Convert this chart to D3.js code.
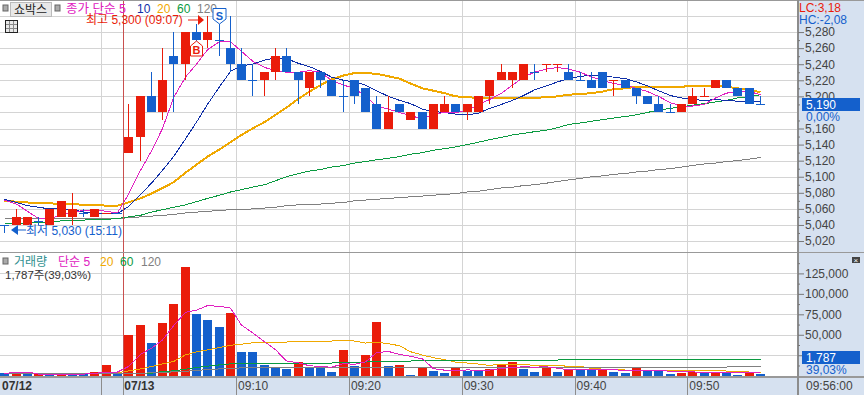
<!DOCTYPE html>
<html>
<head>
<meta charset="utf-8">
<script src="https://cdn.jsdelivr.net/npm/d3@7"></script>
<style>
  html, body { margin: 0; padding: 0; background: #fff; }
  svg { display: block; font-family: "Liberation Sans", "Noto Sans CJK KR", sans-serif; }
  .axis text { fill: #444; font-size: 12px; font-family: "Liberation Sans", sans-serif; }
  .axis line { stroke: #777; }
  .axis path { display: none; }
</style>
</head>
<body>
<svg id="chart" width="864" height="395"></svg>
<script>
const prevTimes = ['15:11','15:12','15:13','15:14','15:15','15:16','15:17','15:18','15:19','15:20','15:21'];
const todayTimes = ['09:00','09:01','09:02','09:03','09:04','09:05','09:06','09:07','09:08','09:09',
  '09:10','09:11','09:12','09:13','09:14','09:15','09:16','09:17','09:18','09:19',
  '09:20','09:21','09:22','09:23','09:24','09:25','09:26','09:27','09:28','09:29',
  '09:30','09:31','09:32','09:33','09:34','09:35','09:36','09:37','09:38','09:39',
  '09:40','09:41','09:42','09:43','09:44','09:45','09:46','09:47','09:48','09:49',
  '09:50','09:51','09:52','09:53','09:54','09:55','09:56'];
const categories = prevTimes.concat(todayTimes);

const opens = [5040,5040,5040,5045,5040,5050,5050,5055,5050,5055,
  5055,5130,5150,5200,5180,5250,5240,5280,5270,5270,
  5260,5240,5220,5220,5230,5250,5230,5210,5230,5220,
  5200,5220,5210,5190,5160,5190,5170,5180,5160,5180,
  5190,5180,5180,5200,5220,5220,5220,5230,5240,5240,
  5230,5220,5220,5230,5220,5220,5210,5200,5190,5180,
  5180,5190,5200,5210,5220,5210,5210,5190];
const closes = [5040,5050,5050,5045,5060,5070,5060,5055,5060,5055,
  5055,5150,5200,5180,5220,5240,5280,5270,5280,5270,
  5240,5220,5220,5230,5250,5230,5220,5230,5220,5200,
  5200,5200,5180,5160,5180,5180,5180,5160,5190,5190,
  5180,5190,5200,5220,5230,5230,5240,5230,5240,5240,
  5220,5220,5210,5210,5220,5210,5200,5190,5180,5180,
  5190,5200,5200,5220,5210,5200,5190,5190];
const highs = [5040,5060,5050,5050,5060,5070,5080,5060,5060,5055,
  5055,5190,5200,5230,5260,5280,5280,5290,5300,5290,
  5300,5260,5240,5230,5260,5260,5230,5230,5230,5220,
  5220,5220,5210,5200,5200,5190,5180,5180,5190,5200,
  5190,5190,5200,5220,5240,5230,5240,5240,5240,5240,
  5240,5230,5230,5230,5220,5220,5210,5200,5200,5190,
  5190,5210,5210,5220,5220,5210,5210,5200];
const lows = [5030,5040,5040,5040,5040,5050,5040,5050,5050,5055,
  5055,5130,5120,5180,5170,5180,5220,5250,5260,5250,
  5230,5220,5200,5200,5220,5230,5190,5200,5210,5200,
  5180,5190,5180,5160,5160,5180,5170,5160,5160,5180,
  5180,5170,5180,5190,5220,5210,5220,5220,5230,5230,
  5220,5220,5210,5210,5200,5210,5190,5190,5180,5180,
  5180,5190,5200,5210,5210,5200,5190,5190];
const candleUp = [0,1,1,0,1,1,1,0,1,1,
  0,1,1,0,1,0,1,0,1,0,
  0,0,0,1,1,0,0,1,0,0,
  0,0,0,0,1,0,1,0,1,1,
  0,1,1,1,1,1,1,0,1,1,
  0,0,0,0,1,0,0,0,0,0,
  1,1,1,1,0,0,0,0];

const ma5 = [5071,5066,5057,5048,5048,5052,5056,5058,5059,5057,
  5055,5078,5108,5132,5160,5198,5224,5240,5258,5268,
  5268,5256,5244,5236,5232,5230,5230,5232,5230,5220,
  5214,5210,5200,5188,5184,5180,5176,5172,5178,5180,
  5180,5182,5190,5196,5204,5214,5224,5230,5234,5236,
  5234,5230,5224,5220,5216,5214,5210,5206,5200,5192,
  5188,5188,5190,5198,5204,5206,5206,5202];
const ma10 = [5072,5068,5064,5062,5060,5060,5059,5056,5055,5054,
  5054,5063,5078,5092,5108,5125,5147,5168,5190,5212,
  5231,5238,5240,5245,5248,5247,5241,5237,5231,5224,
  5220,5218,5214,5207,5200,5195,5191,5184,5181,5180,
  5178,5177,5179,5185,5190,5195,5201,5208,5213,5218,
  5222,5225,5226,5225,5224,5222,5218,5213,5207,5201,
  5198,5196,5195,5196,5195,5194,5193,5193];
const ma20 = [5070,5069,5068,5067,5067,5066,5066,5065,5065,5064,
  5064,5068,5073,5079,5086,5093,5105,5115,5125,5134,
  5143,5152,5160,5168,5177,5186,5197,5206,5214,5221,
  5226,5229,5229,5228,5225,5222,5216,5210,5207,5204,
  5200,5199,5198,5198,5198,5198,5198,5198,5199,5200,
  5202,5203,5204,5206,5209,5210,5212,5212,5212,5212,
  5212,5213,5213,5213,5212,5210,5208,5205];
const ma60 = [5042,5042,5042,5043,5044,5045,5046,5046,5047,5047,
  5048,5050,5052,5056,5059,5062,5065,5069,5073,5077,
  5081,5084,5087,5090,5095,5100,5104,5107,5109,5112,
  5114,5117,5119,5121,5123,5125,5128,5130,5133,5135,
  5137,5140,5143,5146,5149,5152,5154,5156,5158,5161,
  5165,5167,5169,5171,5173,5175,5177,5180,5183,5185,
  5187,5189,5191,5193,5195,5198,5200,5202];
const ma120 = [5048,5048,5048,5048,5048,5048,5048,5048,5048,5048,
  5048,5049,5050,5051,5052,5053,5055,5056,5057,5058,
  5059,5059,5060,5061,5062,5064,5065,5066,5066,5067,
  5068,5070,5071,5072,5073,5074,5075,5076,5077,5078,
  5079,5081,5082,5084,5086,5087,5089,5090,5092,5094,
  5096,5098,5100,5101,5103,5104,5106,5107,5109,5110,
  5112,5114,5116,5117,5119,5120,5122,5124];

const volumes = [3600,2400,1500,1500,1500,1500,1500,1500,4900,13400,
  1500,49900,62100,40100,64600,87700,133000,75500,68200,59700,
  76700,29100,29100,13200,10400,8600,17100,11000,9800,4900,
  31800,12200,25700,66000,12200,13400,1200,9800,6100,3700,
  9800,6100,6100,8600,13400,17100,8600,4900,9800,4900,
  8600,7300,7300,8600,4900,3700,9800,6100,6100,2400,
  3700,4900,3700,4900,4900,1200,4900,1787];
const volumeUp = [0,1,0,1,0,1,0,0,1,1,
  0,1,1,0,1,1,1,0,0,0,
  1,0,0,0,0,0,1,0,0,0,
  1,0,1,1,0,1,0,1,0,0,
  1,0,0,1,1,1,0,0,1,0,
  1,0,0,1,0,0,1,0,0,0,
  1,1,0,1,0,0,1,0];
const volMa5 = [2500,4500,4500,2000,2000,2000,2000,2000,2700,4500,
  4500,11200,26000,33600,43700,60900,77500,80200,85600,84800,
  82600,61800,52600,41600,31700,18100,15700,12100,11400,10300,
  14900,13900,16900,28100,29600,25900,23700,20500,8500,6800,
  6100,7100,6400,6900,8800,10300,10800,10500,10800,9100,
  7400,7100,7600,7300,7300,6400,6900,6600,6100,5600,
  5600,4600,4200,3900,4400,3900,3700,3600];
const volMa20 = [2200,2200,2200,2200,2200,2200,2200,2200,2200,2200,
  3500,5900,8300,11200,14400,17300,25400,29100,31500,34400,
  37200,38500,40100,40900,40900,41100,42300,42300,42300,42300,
  43500,42300,39900,41100,39100,36600,29300,25200,22000,19500,
  16700,15500,14200,12600,14200,13800,13800,12600,12600,12600,
  11400,11400,8900,8100,8100,6900,6900,6900,6900,6900,
  6900,6900,6900,6900,5700,5700,4500,4500];
const volMa60 = [2800,2800,2800,2800,2800,2800,2800,2800,2800,2800,
  3000,3000,3000,3000,5100,5900,7900,10000,11600,13200,
  14400,15300,15300,15300,15300,15500,15500,15500,15500,15500,
  16700,16700,16700,17900,17900,17900,17900,19100,19100,19100,
  19100,19100,19100,19100,19100,19100,19100,19100,19100,19100,
  20300,20300,20300,20300,20300,20300,20300,20300,20300,20300,
  20300,20300,20300,20300,20300,20300,20300,20300];
const volMa120 = [2600,2600,2600,2600,2600,2600,2600,2600,2600,2600,
  2600,2800,3000,3500,4000,4700,5500,6300,7500,8300,
  9100,9500,9800,10000,10000,10300,10600,10600,10600,10600,
  10600,10600,10600,10600,10600,10600,10600,10600,10600,10600,
  10600,10600,10600,10600,10600,10600,10600,10600,10600,10600,
  10600,10600,10600,10600,10600,10600,10600,10600,10600,10600,
  10600,10600,10600,10600,10600,11800,11800,11800];

const priceTicks = [5300,5280,5260,5240,5220,5200,5180,5160,5140,5120,5100,5080,5060,5040,5020];
const priceLabelTicks = [5280,5260,5240,5220,5200,5160,5140,5120,5100,5080,5060,5040,5020];
const priceMinorTicks = [5270,5250,5230,5210,5190,5170,5150,5130,5110,5090,5070,5050,5030];
const volumeTicks = [125000,100000,75000,50000,25000];
const volumeMinorTicks = [137500,112500,87500,62500,37500,12500];
const gridTimes = ['15:20','09:10','09:20','09:30','09:40','09:50'];
const timeLabels = ['09:10','09:20','09:30','09:40','09:50'];

const RED = '#ea1c0a', BLUE = '#1460cc', MAGENTA = '#e020c0', NAVY = '#0f2fa8',
  ORANGE = '#f0a800', GREEN = '#0a9a40', GRAY = '#808080', PANEL = '#d6e1f0', GRID = '#d4d4d4';

const plotRight = 797;
const svg = d3.select('#chart');

const x = d3.scaleBand().domain(d3.range(categories.length)).range([-0.78, 766.26]);
const idxOf = t => categories.lastIndexOf(t);
const xc = i => Math.round(x(i)) + 5;
const yPrice = d3.scaleLinear().domain([5000, 5300]).range([257.1, 16]);
const yVol = d3.scaleLinear().domain([0, 125000]).range([375.7, 273.4]);

// panels
svg.append('rect').attr('x', plotRight).attr('y', 0).attr('width', 864 - plotRight).attr('height', 395).attr('fill', PANEL);
svg.append('rect').attr('x', 0).attr('y', 377).attr('width', 864).attr('height', 18).attr('fill', PANEL);

// grid
const grid = svg.append('g').attr('shape-rendering', 'crispEdges');
grid.append('g').selectAll('line').data(priceTicks).join('line')
  .attr('x1', 0).attr('x2', plotRight)
  .attr('y1', d => Math.round(yPrice(d)) + 0.5).attr('y2', d => Math.round(yPrice(d)) + 0.5)
  .attr('stroke', GRID);
grid.append('g').selectAll('line').data(volumeTicks).join('line')
  .attr('x1', 0).attr('x2', plotRight)
  .attr('y1', d => Math.round(yVol(d)) + 0.5).attr('y2', d => Math.round(yVol(d)) + 0.5)
  .attr('stroke', GRID);
grid.append('g').selectAll('line').data(gridTimes).join('line')
  .attr('x1', d => Math.round(x(idxOf(d))) + 0.5).attr('x2', d => Math.round(x(idxOf(d))) + 0.5)
  .attr('y1', 0).attr('y2', 376)
  .attr('stroke', GRID);

// moving averages, price pane (below the candles)
function drawLine(parent, values, y, color, width) {
  const line = d3.line().x((d, i) => xc(i) + 0.5).y(d => y(d));
  parent.append('path').datum(values)
    .attr('fill', 'none').attr('stroke', color).attr('stroke-width', width)
    .attr('shape-rendering', 'crispEdges').attr('d', line);
}
const pricePane = svg.append('g');
drawLine(pricePane, ma120, yPrice, GRAY, 1);
drawLine(pricePane, ma60, yPrice, GREEN, 1);
drawLine(pricePane, ma20, yPrice, ORANGE, 2);
drawLine(pricePane, ma10, yPrice, NAVY, 1);
drawLine(pricePane, ma5, yPrice, MAGENTA, 1);

// candles
const candles = pricePane.append('g').attr('shape-rendering', 'crispEdges')
  .selectAll('g').data(categories.map((c, i) => i)).join('g')
  .attr('fill', i => candleUp[i] ? RED : BLUE)
  .attr('stroke', i => candleUp[i] ? RED : BLUE);
candles.append('line')
  .attr('x1', i => xc(i) + 0.5).attr('x2', i => xc(i) + 0.5)
  .attr('y1', i => Math.round(yPrice(highs[i]))).attr('y2', i => Math.round(yPrice(lows[i])));
candles.append('rect')
  .attr('x', i => xc(i) - 4)
  .attr('width', 9)
  .attr('y', i => Math.round(yPrice(Math.max(opens[i], closes[i]))))
  .attr('height', i => Math.max(1, Math.round(yPrice(Math.min(opens[i], closes[i]))) - Math.round(yPrice(Math.max(opens[i], closes[i])))))
  .attr('stroke', 'none');

// volume bars and averages
const volPane = svg.append('g');
volPane.append('g').attr('shape-rendering', 'crispEdges')
  .selectAll('rect').data(volumes).join('rect')
  .attr('x', (d, i) => xc(i) - 4)
  .attr('width', 9)
  .attr('y', d => Math.round(yVol(d)))
  .attr('height', d => Math.round(yVol(0)) - Math.round(yVol(d)))
  .attr('fill', (d, i) => volumeUp[i] ? RED : BLUE);
drawLine(volPane, volMa20, yVol, ORANGE, 1);
drawLine(volPane, volMa60, yVol, GREEN, 1);
drawLine(volPane, volMa120, yVol, GRAY, 1);
drawLine(volPane, volMa5, yVol, MAGENTA, 1);

// 09:00 session line
svg.append('line').attr('shape-rendering', 'crispEdges')
  .attr('x1', Math.round(x(idxOf('09:00'))) + 0.5).attr('x2', Math.round(x(idxOf('09:00'))) + 0.5)
  .attr('y1', 0).attr('y2', 377).attr('stroke', '#c9504f');

// frame
const frame = svg.append('g').attr('shape-rendering', 'crispEdges');
frame.append('line').attr('x1', 0).attr('x2', 864).attr('y1', 0.5).attr('y2', 0.5).attr('stroke', '#999');
frame.append('line').attr('x1', 0).attr('x2', 864).attr('y1', 252.5).attr('y2', 252.5).attr('stroke', '#999');
frame.append('line').attr('x1', 0).attr('x2', 864).attr('y1', 376.5).attr('y2', 376.5).attr('stroke', '#999').attr('stroke-width', 2);
frame.append('line').attr('x1', plotRight + 0.5).attr('x2', plotRight + 0.5).attr('y1', 0).attr('y2', 395).attr('stroke', '#8c8c8c').attr('stroke-width', 2);

// right axes
const axisX = plotRight + 1;
const fmt = d3.format(',');
svg.append('g').attr('class', 'axis').attr('transform', `translate(${axisX},0)`)
  .call(d3.axisRight(yPrice).tickValues(priceLabelTicks).tickSize(6).tickPadding(1).tickFormat(fmt));
svg.append('g').attr('class', 'axis').attr('transform', `translate(${axisX},0)`)
  .call(d3.axisRight(yPrice).tickValues(priceMinorTicks).tickSize(2).tickFormat(''));
svg.append('g').attr('class', 'axis').attr('transform', `translate(${axisX},0)`)
  .call(d3.axisRight(yVol).tickValues(volumeTicks).tickSize(6).tickPadding(1).tickFormat(fmt));
svg.append('g').attr('class', 'axis').attr('transform', `translate(${axisX},0)`)
  .call(d3.axisRight(yVol).tickValues(volumeMinorTicks).tickSize(2).tickFormat(''));

function label(str, px, py, color, size, weight) {
  return svg.append('text').attr('x', px).attr('y', py).attr('fill', color)
    .attr('font-size', size || 12).attr('font-weight', weight || 'normal').text(str);
}

// right side badges
svg.append('rect').attr('x', 799).attr('y', 1).attr('width', 65).attr('height', 25).attr('fill', PANEL);
label('LC:3,18', 799, 12, RED, 12);
label('HC:-2,08', 799, 24, BLUE, 12);
svg.append('rect').attr('x', 802).attr('y', 98).attr('width', 58).attr('height', 13).attr('fill', BLUE);
label('5,190', 806, 109, '#fff', 12);
svg.append('rect').attr('x', 805).attr('y', 111).attr('width', 50).attr('height', 11).attr('fill', PANEL);
label('0,00%', 806, 121, BLUE, 12);
svg.append('rect').attr('x', 802).attr('y', 351).attr('width', 58).attr('height', 13).attr('fill', BLUE);
label('1,787', 806, 362, '#fff', 12);
svg.append('rect').attr('x', 805).attr('y', 364).attr('width', 50).attr('height', 11).attr('fill', PANEL);
label('39,03%', 806, 374, BLUE, 12);
svg.append('rect').attr('x', 852).attr('y', 257).attr('width', 8).attr('height', 6).attr('fill', '#444');
label('×', 853.5, 263, '#fff', 8);

// bottom axis
svg.append('g').attr('shape-rendering', 'crispEdges').selectAll('line')
  .data(gridTimes.concat(['09:00'])).join('line')
  .attr('x1', d => Math.round(x(idxOf(d))) + 0.5).attr('x2', d => Math.round(x(idxOf(d))) + 0.5)
  .attr('y1', 377).attr('y2', 395).attr('stroke', '#8c8c8c');
label('07/12', 2, 390, '#333', 12, 'bold');
label('07/13', x(idxOf('09:00')) + 1, 390, '#333', 12, 'bold');
svg.append('g').selectAll('text').data(timeLabels).join('text')
  .attr('x', d => x(idxOf(d)) + 2).attr('y', 390)
  .attr('fill', '#444').attr('font-size', 12).text(d => d);
label('09:56:00', 806, 390, '#444', 12);

// top legend
svg.append('rect').attr('x', 3).attr('y', 5).attr('width', 5).attr('height', 6).attr('fill', '#aaa').attr('stroke', '#666');
svg.append('rect').attr('x', 10.5).attr('y', 2.5).attr('width', 41).attr('height', 14).attr('fill', '#e8e8e8').attr('stroke', '#bbb');
label('쇼박스', 14, 14, '#222', 12);
svg.append('rect').attr('x', 55).attr('y', 5).attr('width', 5).attr('height', 6).attr('fill', '#aaa').attr('stroke', '#666');
label('종가 단순 5', 66, 13, MAGENTA, 12.5);
label('10', 137, 13, NAVY, 12);
label('20', 157, 13, ORANGE, 12);
label('60', 177, 13, GREEN, 12);
label('120', 197, 13, GRAY, 12);

// table icon
svg.append('rect').attr('x', 5.5).attr('y', 20.5).attr('width', 12).attr('height', 12).attr('fill', '#e8e8e8').attr('stroke', '#222');
svg.append('path').attr('d', 'M6 24.5H17M6 28.5H17M9.5 21V32M13.5 21V32').attr('stroke', '#888').attr('fill', 'none');

// high / low annotations
const hiX = xc(idxOf('09:07'));
label('최고 5,300 (09:07)', 86, 24, RED, 12);
svg.append('path').attr('d', `M${hiX - 19} ${yPrice(5300) + 4}H${hiX - 9}`).attr('stroke', RED).attr('fill', 'none');
svg.append('path').attr('d', `M${hiX - 9} ${yPrice(5300) - 1}L${hiX - 3} ${yPrice(5300) + 4}L${hiX - 9} ${yPrice(5300) + 9}Z`).attr('fill', RED);
const loY = yPrice(5030) - 3;
svg.append('path').attr('d', `M11 ${loY}L18 ${loY - 5}V${loY + 5}Z`).attr('fill', BLUE);
svg.append('path').attr('d', `M18 ${loY}H26`).attr('stroke', BLUE).attr('fill', 'none');
label('최저 5,030 (15:11)', 26, 235, BLUE, 12);

// buy / sell markers
const sX = xc(idxOf('09:08')) + 0.5;
svg.append('path').attr('d', `M${sX - 6.5} 8.5H${sX + 6.5}V19L${sX} 24L${sX - 6.5} 19Z`).attr('fill', '#fff').attr('stroke', BLUE);
svg.append('text').attr('x', sX).attr('y', 20).attr('text-anchor', 'middle').attr('fill', BLUE).attr('font-size', 11).attr('font-weight', 'bold').text('S');
const bX = xc(idxOf('09:06')) + 0.5;
svg.append('path').attr('d', `M${bX - 6} 46L${bX} 41L${bX + 6} 46V56H${bX - 6}Z`).attr('fill', '#fff').attr('stroke', RED);
svg.append('text').attr('x', bX).attr('y', 54).attr('text-anchor', 'middle').attr('fill', RED).attr('font-size', 11).attr('font-weight', 'bold').text('B');

// volume legend
svg.append('rect').attr('x', 3).attr('y', 258).attr('width', 5).attr('height', 6).attr('fill', '#aaa').attr('stroke', '#666');
label('거래량', 14, 266, '#2f8f8f', 12);
label('단순 5', 58, 266, MAGENTA, 12);
label('20', 100, 266, ORANGE, 12);
label('60', 120, 266, GREEN, 12);
label('120', 141, 266, GRAY, 12);
label('1,787주(39,03%)', 5, 279, '#333', 11.5);
</script>
</body>
</html>
